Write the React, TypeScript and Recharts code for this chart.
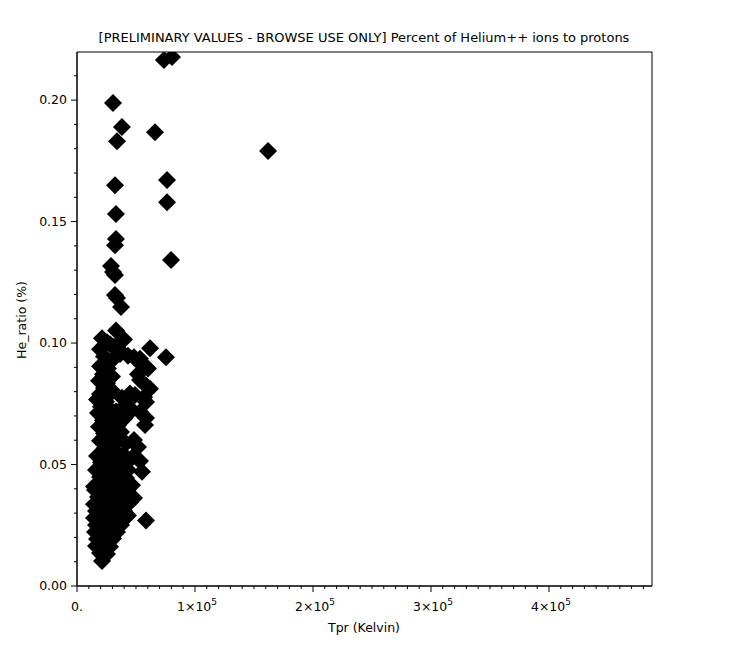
import { ScatterChart, Scatter, XAxis, YAxis, ReferenceArea } from 'recharts'

// proton temperature (K) and He++/proton ratio (%)
const tprKelvin = [
  73700, 80500, 30500, 66100, 38100, 33900, 161900, 76300, 76300, 32200,
  33000, 33000, 32200, 79700, 28800, 30500, 32200, 32200, 33900, 37300,
  61900, 75400,
  21190, 27970, 33050, 39830,
  19500, 25430, 31360, 37290,
  22880, 28820, 36440, 43220,
  48310, 53390,
  19500, 26270,
  22040, 29660, 55090, 60170,
  18650, 25430, 51700,
  22880, 29660, 53390, 58480,
  19500, 26270, 44920, 61870,
  16950, 24580, 38140, 49150, 56780,
  20340, 27970, 41530, 58480,
  17800, 25430, 33050, 46610, 53390,
  22040, 29660, 39830, 58480,
  18650, 26270, 34750, 57630,
  22880, 30510, 37290,
  19500, 27120, 34750, 41530, 48310,
  23730, 31360, 51700,
  16950, 24580, 33050, 39830, 46610,
  20340, 27970, 36440, 53390,
  16100, 23730, 31360, 43220, 55090,
  19500, 27120, 34750, 41530,
  14400, 22880, 29660, 38140, 46610,
  15250, 26270, 34750, 43220,
  17800, 24580, 32200, 39830, 48310,
  14400, 21190, 29660, 36440, 44920,
  16100, 23730, 31360, 39830,
  14400, 21190, 27970, 34750, 43220, 58480,
  16100, 22880, 30510, 37290,
  15250, 20340, 27120, 33900,
  16950, 23730, 30510,
  16100, 22040, 27970,
  19500, 25430,
  21190,
]

const heRatio = [
  0.2165, 0.2177, 0.1988, 0.1868, 0.1889, 0.1831, 0.179, 0.1671, 0.158, 0.165,
  0.1531, 0.1428, 0.1403, 0.1342, 0.1317, 0.1292, 0.128, 0.1198, 0.1185, 0.1148,
  0.0979, 0.0942,
  0.102, 0.0995, 0.1052, 0.1015,
  0.0975, 0.1003, 0.0985, 0.0965,
  0.0945, 0.0925, 0.0955, 0.0948,
  0.0942, 0.0935,
  0.0905, 0.0895,
  0.0872, 0.0862, 0.0909, 0.0895,
  0.0845, 0.0835, 0.0872,
  0.0815, 0.0805, 0.0848, 0.0825,
  0.079, 0.0782, 0.0792, 0.0812,
  0.0768, 0.0758, 0.0775, 0.0786, 0.0778,
  0.0738, 0.0728, 0.0748, 0.0757,
  0.0712, 0.0702, 0.0718, 0.0724, 0.0716,
  0.0682, 0.0675, 0.0688, 0.0691,
  0.0655, 0.0648, 0.0662, 0.0663,
  0.0628, 0.0622, 0.0634,
  0.0598, 0.0592, 0.0601, 0.0588, 0.0601,
  0.0568, 0.0562, 0.0572,
  0.0535, 0.0542, 0.0532, 0.0539, 0.0528,
  0.0508, 0.0502, 0.051, 0.0515,
  0.0477, 0.0472, 0.0468, 0.0477, 0.047,
  0.0449, 0.0442, 0.0452, 0.0445,
  0.041, 0.0418, 0.0425, 0.042, 0.0415,
  0.0395, 0.0388, 0.0392, 0.0398,
  0.0366, 0.0362, 0.0368, 0.0372, 0.0362,
  0.0337, 0.0342, 0.0332, 0.0337, 0.0345,
  0.0309, 0.0305, 0.0312, 0.0309,
  0.028, 0.0275, 0.0284, 0.028, 0.029, 0.027,
  0.0251, 0.0248, 0.0255, 0.0251,
  0.0222, 0.0218, 0.0225, 0.0222,
  0.0193, 0.019, 0.0196,
  0.0165, 0.016, 0.0162,
  0.0136, 0.0132,
  0.0103,
]

const xMax = 487300
const yMax = 0.2198
const xMajor = [0, 100000, 200000, 300000, 400000]
const xMajorLabels = ['0.', '1', '2', '3', '4']
const yMajorLabels = ['0.00', '0.05', '0.10', '0.15', '0.20']

const xTicks = Array.from({ length: 49 }, (_, i) => i * 10000)
const yTicks = Array.from({ length: 22 }, (_, i) => i / 100)

const data = tprKelvin.map((t, i) => ({ tpr: t, he: heRatio[i] }))

const FONT = 'DejaVu Sans, sans-serif'

const Diamond = (props: any) => {
  const { cx, cy } = props
  const r = 9
  return <polygon points={`${cx},${cy - r} ${cx + r},${cy} ${cx},${cy + r} ${cx - r},${cy}`} fill="#000" />
}

const XTick = (props: any) => {
  const { x, y, payload } = props
  const idx = xMajor.indexOf(payload.value)
  const major = idx >= 0
  return (
    <g>
      <line x1={x} y1={y} x2={x} y2={y + (major ? 6 : 3)} stroke="#000" />
      {major && idx === 0 && (
        <text x={x} y={y + 25} textAnchor="middle" fontSize={12.5} fontFamily={FONT} fill="#000">0.</text>
      )}
      {major && idx > 0 && (
        <text x={x + 2} y={y + 25} textAnchor="middle" fontSize={12.5} fontFamily={FONT} fill="#000">
          {xMajorLabels[idx]}×10<tspan dy={-6} fontSize={9}>5</tspan>
        </text>
      )}
    </g>
  )
}

const YTick = (props: any) => {
  const { x, y, payload } = props
  const hundredths = Math.round(payload.value * 100)
  const major = hundredths % 5 === 0
  return (
    <g>
      <line x1={x - (major ? 6 : 3)} y1={y} x2={x} y2={y} stroke="#000" />
      {major && (
        <text x={x - 10} y={y + 4} textAnchor="end" fontSize={12.5} fontFamily={FONT} fill="#000">
          {yMajorLabels[hundredths / 5]}
        </text>
      )}
    </g>
  )
}

export default function App() {
  return (
    <div style={{ position: 'absolute', left: 0, top: 0, width: 730, height: 651, background: '#fff' }}>
      <ScatterChart width={730} height={651} margin={{ top: 52, right: 78, bottom: 15, left: 0 }}>
        <XAxis
          type="number"
          dataKey="tpr"
          domain={[0, xMax]}
          ticks={xTicks}
          interval={0}
          tick={<XTick />}
          tickLine={false}
          tickSize={0}
          tickMargin={0}
          axisLine={{ stroke: '#000' }}
          height={50}
          allowDataOverflow
        />
        <YAxis
          type="number"
          dataKey="he"
          domain={[0, yMax]}
          ticks={yTicks}
          interval={0}
          tick={<YTick />}
          tickLine={false}
          tickSize={0}
          tickMargin={0}
          axisLine={{ stroke: '#000' }}
          width={77}
          allowDataOverflow
        />
        <Scatter data={data} shape={<Diamond />} isAnimationActive={false} />
        <ReferenceArea x1={0} x2={xMax} y1={0} y2={yMax} fill="none" stroke="#000" strokeWidth={1} />
      </ScatterChart>
      <svg width={730} height={651} style={{ position: 'absolute', left: 0, top: 0, pointerEvents: 'none' }}>
        <text x={364} y={42} textAnchor="middle" fontSize={13} fontFamily={FONT} fill="#000">
          [PRELIMINARY VALUES - BROWSE USE ONLY] Percent of Helium++ ions to protons
        </text>
        <text x={364} y={632} textAnchor="middle" fontSize={12.5} fontFamily={FONT} fill="#000">
          Tpr (Kelvin)
        </text>
        <text x={26} y={320} textAnchor="middle" fontSize={12.5} fontFamily={FONT} fill="#000" transform="rotate(-90 26 320)">
          He_ratio (%)
        </text>
      </svg>
    </div>
  )
}
